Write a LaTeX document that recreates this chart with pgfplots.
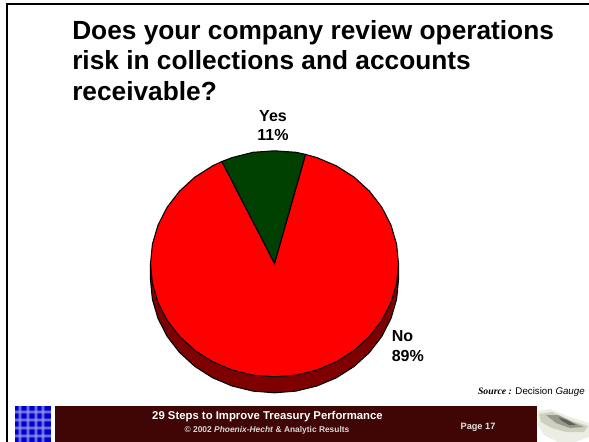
\documentclass[border=0pt]{standalone}
\usepackage{fontspec}
\setmainfont{Liberation Sans}
\usepackage{pgfplots}
\pgfplotsset{compat=1.18}
\definecolor{pieno}{RGB}{255,0,0}
\definecolor{pieyes}{RGB}{0,64,0}
\definecolor{pieside}{RGB}{127,0,0}
\definecolor{footer}{RGB}{64,5,5}
\definecolor{gridblue}{RGB}{0,0,205}
\definecolor{gridlight}{RGB}{160,160,235}
\begin{document}
\begin{tikzpicture}[x=1pt,y=1pt]
\begin{axis}[
    scale only axis,
    width=441.75pt,
    height=331.5pt,
    xmin=0, xmax=589,
    ymin=0, ymax=442,
    y dir=reverse,
    hide axis,
    clip=true,
]
% frame
\addplot[black, line width=2.1pt] coordinates {(7,442) (7,4) (589,4)};
% footer blocks
\addplot[fill=footer, draw=none] coordinates {(55,406) (537,406) (537,442) (55,442)} -- cycle;
\addplot[fill=gridblue, draw=none] coordinates {(15,406) (51,406) (51,442) (15,442)} -- cycle;
\pgfplotsinvokeforeach{20,27.7,35.7,43.3}{
  \addplot[gridlight, opacity=0.3, line width=3pt] coordinates {(#1,406) (#1,442)};
  \addplot[gridlight, opacity=0.5, line width=1.4pt] coordinates {(#1,406) (#1,442)};
}
\pgfplotsinvokeforeach{412.3,420,427.7,435.7}{
  \addplot[gridlight, opacity=0.3, line width=3pt] coordinates {(15,#1) (51,#1)};
  \addplot[gridlight, opacity=0.5, line width=1.4pt] coordinates {(15,#1) (51,#1)};
}
% photo at the right of the footer
\addplot[fill={rgb,255:red,236;green,238;blue,228}, draw=none] coordinates {(538,411) (550,409) (570,417) (589,423) (589,437) (575,442) (558,442) (544,435) (538,426)} -- cycle;
\addplot[fill={rgb,255:red,205;green,208;blue,190}, draw=none] coordinates {(539,414) (552,412) (570,420) (588,426) (584,432) (566,432) (552,428) (541,422)} -- cycle;
\addplot[fill={rgb,255:red,150;green,152;blue,140}, draw=none] coordinates {(546,415) (558,415) (572,422) (584,427) (570,428) (556,423)} -- cycle;
\addplot[fill={rgb,255:red,95;green,95;blue,90}, draw=none] coordinates {(558,417) (567,420) (576,425) (569,425) (562,421)} -- cycle;
% pie side
\addplot[fill=pieside, draw=black, line width=0.8pt] coordinates {
  (150.5,263.8) (150.5,279.8) (152.4,299.4) (158.0,318.4) (167.1,336.3) (179.5,352.4)
  (194.8,366.4) (212.5,377.7) (232.1,386.0) (253.0,391.1) (274.5,392.8) (296.0,391.1)
  (316.9,386.0) (336.5,377.7) (354.2,366.4) (369.5,352.4) (381.9,336.3) (391.0,318.4)
  (396.6,299.4) (398.5,279.8) (398.5,263.8)
} -- cycle;
% No 89%
\addplot[fill=pieno, draw=black, line width=0.8pt] coordinates {
  (274.5,263.3) (221.9,161.5) (212.5,165.9) (194.8,177.2) (179.5,191.2) (167.1,207.3)
  (158.0,225.2) (152.4,244.2) (150.5,263.8) (152.4,283.4) (158.0,302.4) (167.1,320.3)
  (179.5,336.4) (194.8,350.4) (212.5,361.7) (232.1,370.0) (253.0,375.1) (274.5,376.8)
  (296.0,375.1) (316.9,370.0) (336.5,361.7) (354.2,350.4) (369.5,336.4) (381.9,320.3)
  (391.0,302.4) (396.6,283.4) (398.5,263.8) (396.6,244.2) (391.0,225.2) (381.9,207.3)
  (369.5,191.2) (354.2,177.2) (336.5,165.9) (316.9,157.6) (305.5,154.4)
} -- cycle;
% Yes 11%
\addplot[fill=pieyes, draw=black, line width=0.8pt] coordinates {
  (274.5,263.3) (305.5,154.4) (296.0,152.3) (274.5,150.8) (253.0,152.3) (232.1,157.6) (221.9,161.5)
} -- cycle;
% labels
\node[font=\bfseries\fontsize{12}{14.6}\selectfont, align=center, anchor=center] at (axis cs:273,125.5) {Yes\\11\%};
\node[font=\bfseries\fontsize{12}{14.6}\selectfont, align=left, anchor=west, inner sep=0pt] at (axis cs:391.5,346) {No\\89\%};
\node[font=\fontsize{7.3}{9}\selectfont, anchor=east, inner sep=0pt] at (axis cs:585,392) {{\fontspec{Liberation Serif}\bfseries\itshape Source :} Decision \textit{Gauge}};
% title
\node[font=\bfseries\fontsize{19.7}{23}\selectfont, align=left, anchor=north west, inner sep=0pt] at (axis cs:72,20) {Does your company review operations\\risk in collections and accounts\\receivable?};
% footer text
\node[white, font=\bfseries\fontsize{8.5}{10}\selectfont, anchor=center] at (axis cs:267.5,417) {29 Steps to Improve Treasury Performance};
\node[white!85!black, font=\bfseries\fontsize{6.3}{8}\selectfont, anchor=center] at (axis cs:267,430) {\textcopyright\ 2002 \textit{Phoenix-Hecht} \& Analytic Results};
\node[white!90!black, font=\bfseries\fontsize{6.9}{8}\selectfont, anchor=center] at (axis cs:478,427.5) {Page 17};
\end{axis}
\pgfresetboundingbox
\path[use as bounding box] (0pt,0pt) rectangle (441.75pt,331.5pt);
\end{tikzpicture}
\end{document}
